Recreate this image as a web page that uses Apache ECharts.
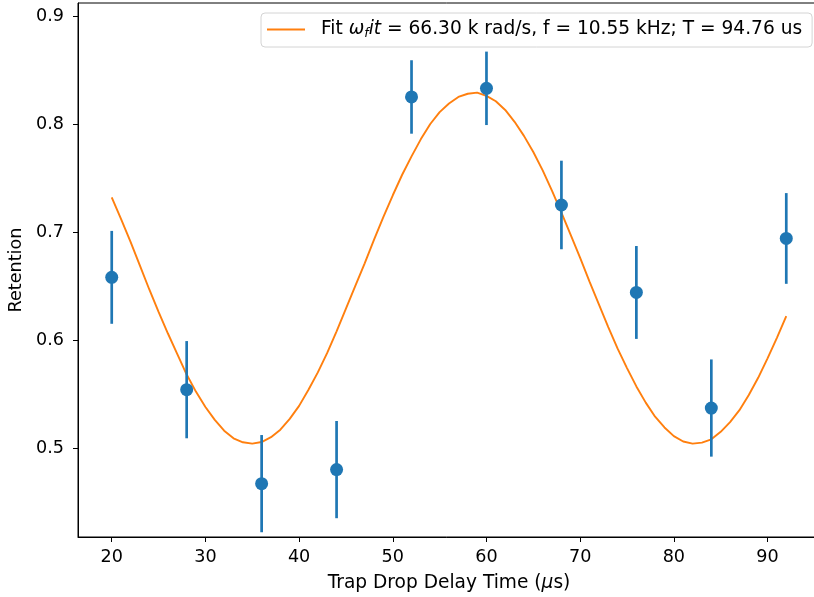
<!DOCTYPE html>
<html><head><meta charset="utf-8">
<script src="https://cdn.jsdelivr.net/npm/echarts@6/dist/echarts.min.js"></script>
<style>html,body{margin:0;padding:0;background:#fff}#c{width:814px;height:597px}</style>
</head><body><div id="c"></div>
<script>
// measured data
const delays = [20, 28, 36, 44, 52, 60, 68, 76, 84, 92];
const retention = [0.658, 0.554, 0.467, 0.480, 0.825, 0.833, 0.725, 0.644, 0.537, 0.694];
const errors = [0.043, 0.045, 0.045, 0.045, 0.034, 0.034, 0.041, 0.043, 0.045, 0.042];
// fit curve, every 1 us
const fitX = [20,21,22,23,24,25,26,27,28,29,30,31,32,33,34,35,36,37,38,39,40,41,42,43,44,45,46,47,48,49,50,51,52,53,54,55,56,57,58,59,60,61,62,63,64,65,66,67,68,69,70,71,72,73,74,75,76,77,78,79,80,81,82,83,84,85,86,87,88,89,90,91,92];
const fitY = [0.732,0.712,0.691,0.669,0.647,0.626,0.606,0.587,0.568,0.552,0.538,0.526,0.516,0.509,0.5053,0.504,0.5055,0.510,0.517,0.527,0.539,0.554,0.570,0.588,0.608,0.629,0.650,0.671,0.693,0.714,0.734,0.753,0.770,0.786,0.800,0.811,0.819,0.825,0.828,0.829,0.826,0.821,0.813,0.802,0.789,0.774,0.757,0.738,0.718,0.697,0.676,0.654,0.633,0.612,0.592,0.574,0.557,0.542,0.529,0.519,0.511,0.506,0.504,0.505,0.508,0.515,0.524,0.535,0.549,0.565,0.583,0.602,0.622];
const xTicks = [20, 30, 40, 50, 60, 70, 80, 90];
const yTicks = [0.5, 0.6, 0.7, 0.8, 0.9];

const font = 'DejaVu Sans';
const fs = 17.6;
const fsw = 18.6;
const chart = echarts.init(document.getElementById('c'));
chart.setOption({
  animation: false,
  backgroundColor: '#fff',
  grid: { left: 78, top: 3, width: 742, height: 534, outerBoundsMode: 'none', containLabel: false, show: true, borderColor: '#000', borderWidth: 1, backgroundColor: 'transparent' },
  legend: {
    data: [{ name: 'fit', icon: 'rect' }], left: 261, top: 13, orient: 'horizontal',
    itemWidth: 38, itemHeight: 2, itemGap: 10,
    backgroundColor: 'rgba(255,255,255,0.8)', borderColor: '#d4d4d4', borderWidth: 1, borderRadius: 4,
    padding: [7, 10, 7, 6],
    formatter: () => '{n|Fit }{i|ω}{s|f}{i|it}{n| = 66.30 k rad/s, f = 10.55 kHz; T = 94.76 us}',
    textStyle: {
      fontFamily: font, fontSize: fsw, color: '#000', padding: [0, 0, 0, 11],
      rich: {
        n: { fontFamily: font, fontSize: fsw, color: '#000' },
        i: { fontFamily: font, fontSize: fsw, fontStyle: 'italic', color: '#000' },
        s: { fontFamily: font, fontSize: 12.5, fontStyle: 'italic', color: '#000', verticalAlign: 'bottom', padding: [8, 0, 0, 0] }
      }
    }
  },
  xAxis: {
    type: 'value', min: 16.4, max: 95.6,
    splitLine: { show: false },
    axisLine: { show: true, onZero: false, lineStyle: { color: '#000', width: 1 } },
    axisTick: { show: true, length: 5, lineStyle: { color: '#000' }, customValues: xTicks },
    axisLabel: { customValues: xTicks, fontFamily: font, fontSize: fs, color: '#000', margin: 11 },
    name: '{n|Trap Drop Delay Time (}{i|μ}{n|s)}', nameLocation: 'middle', nameGap: 37,
    nameTextStyle: { fontFamily: font, fontSize: fsw, color: '#000',
      rich: { n: { fontFamily: font, fontSize: fsw, color: '#000' }, i: { fontFamily: font, fontSize: fsw, fontStyle: 'italic', color: '#000' } } }
  },
  yAxis: {
    type: 'value', min: 0.4176, max: 0.912,
    splitLine: { show: false },
    axisLine: { show: true, onZero: false, lineStyle: { color: '#000', width: 1 } },
    axisTick: { show: true, length: 5, lineStyle: { color: '#000' }, customValues: yTicks },
    axisLabel: { customValues: yTicks, fontFamily: font, fontSize: fs, color: '#000', margin: 14, formatter: v => v.toFixed(1) },
    name: 'Retention', nameLocation: 'middle', nameGap: 47, nameRotate: 90,
    nameTextStyle: { fontFamily: font, fontSize: fs, color: '#000' }
  },
  series: [
    {
      name: 'fit', type: 'line', data: fitX.map((x, i) => [x, fitY[i]]),
      smooth: false, symbol: 'none', lineStyle: { color: '#ff7f0e', width: 1.9 }, itemStyle: { color: '#ff7f0e' }, z: 2
    },
    {
      name: 'err', type: 'custom', z: 3,
      data: delays.map((x, i) => [x, retention[i] - errors[i], retention[i] + errors[i]]),
      renderItem: (params, api) => {
        const lo = api.coord([api.value(0), api.value(1)]);
        const hi = api.coord([api.value(0), api.value(2)]);
        return { type: 'line', shape: { x1: lo[0], y1: lo[1], x2: hi[0], y2: hi[1] }, style: { stroke: '#1f77b4', lineWidth: 2.7 } };
      }
    },
    {
      name: 'data', type: 'scatter', data: delays.map((x, i) => [x, retention[i]]),
      symbol: 'circle', symbolSize: 13, itemStyle: { color: '#1f77b4', opacity: 1 }, z: 4
    }
  ]
});
</script></body></html>
